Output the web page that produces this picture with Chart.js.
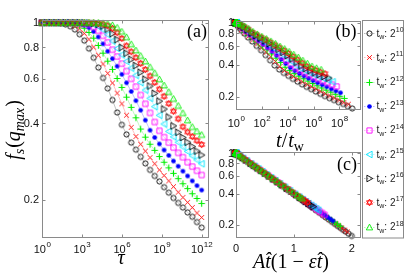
<!DOCTYPE html>
<html><head><meta charset="utf-8">
<script src="https://cdn.jsdelivr.net/npm/chart.js@4.4.1/dist/chart.umd.min.js"></script>
<style>
html,body{margin:0;padding:0;background:#fff;}
#wrap{position:relative;width:415px;height:278px;overflow:hidden;background:#fff;}
canvas{position:absolute;left:0;top:0;}
</style></head><body>
<div id="wrap">
<canvas id="ca" width="415" height="278"></canvas>
<canvas id="cb" width="415" height="278"></canvas>
<canvas id="cc" width="415" height="278"></canvas>
</div>
<script>
// ---- data ----
const TAU_LOG10 = [0.000,0.353,0.706,1.059,1.412,1.765,2.118,2.471,2.824,3.176,3.529,3.882,4.235,4.588,4.941,5.294,5.647,6.000,6.353,6.706,7.059,7.412,7.765,8.118,8.471,8.824,9.176,9.529,9.882,10.235,10.588,10.941,11.294,11.647,12.000];
const TW_EXP = [10,11,12,13,14,15,16,17,18];
const FS_TW10 = [1.000,1.000,0.999,0.997,0.993,0.985,0.968,0.940,0.900,0.850,0.790,0.727,0.665,0.605,0.550,0.495,0.442,0.395,0.362,0.336,0.315,0.295,0.278,0.262,0.248,0.236,0.224,0.213,0.203,0.194,0.186,0.178,0.171,0.163,0.155];
const FS_TW11 = [1.000,1.000,1.000,0.999,0.997,0.994,0.986,0.971,0.946,0.908,0.860,0.801,0.744,0.687,0.631,0.578,0.527,0.478,0.431,0.386,0.355,0.331,0.311,0.293,0.277,0.262,0.249,0.237,0.225,0.214,0.204,0.195,0.186,0.177,0.170];
const FS_TW12 = [1.000,1.000,1.000,1.000,0.999,0.997,0.994,0.988,0.974,0.951,0.915,0.869,0.813,0.758,0.705,0.654,0.602,0.555,0.508,0.463,0.421,0.380,0.353,0.331,0.313,0.296,0.281,0.267,0.254,0.242,0.231,0.221,0.211,0.202,0.193];
const FS_TW13 = [1.000,1.000,1.000,1.000,1.000,0.999,0.998,0.995,0.989,0.978,0.956,0.923,0.879,0.825,0.771,0.721,0.673,0.625,0.579,0.535,0.492,0.451,0.412,0.376,0.352,0.332,0.314,0.299,0.284,0.271,0.259,0.248,0.237,0.227,0.218];
const FS_TW14 = [1.000,1.000,1.000,1.000,1.000,1.000,1.000,0.999,0.996,0.991,0.981,0.962,0.931,0.888,0.836,0.782,0.735,0.689,0.644,0.600,0.559,0.518,0.478,0.440,0.405,0.374,0.353,0.336,0.321,0.306,0.294,0.281,0.270,0.260,0.250];
const FS_TW15 = [1.000,1.000,1.000,1.000,1.000,1.000,1.000,1.000,0.999,0.997,0.993,0.984,0.967,0.938,0.897,0.847,0.791,0.747,0.704,0.662,0.620,0.580,0.542,0.503,0.466,0.431,0.398,0.372,0.354,0.337,0.323,0.310,0.298,0.287,0.277];
const FS_TW16 = [1.000,1.000,1.000,1.000,1.000,1.000,1.000,1.000,1.000,0.999,0.997,0.994,0.986,0.971,0.944,0.905,0.857,0.799,0.758,0.717,0.677,0.637,0.598,0.562,0.526,0.490,0.456,0.424,0.391,0.369,0.352,0.337,0.324,0.311,0.300];
const FS_TW17 = [1.000,1.000,1.000,1.000,1.000,1.000,1.000,1.000,1.000,1.000,0.999,0.997,0.994,0.987,0.973,0.950,0.913,0.867,0.810,0.768,0.728,0.691,0.653,0.616,0.581,0.546,0.512,0.479,0.447,0.417,0.388,0.370,0.355,0.342,0.330];
const FS_TW18 = [1.000,1.000,1.000,1.000,1.000,1.000,1.000,1.000,1.000,1.000,1.000,0.999,0.998,0.995,0.989,0.977,0.955,0.921,0.876,0.822,0.777,0.739,0.703,0.667,0.632,0.597,0.565,0.532,0.500,0.469,0.439,0.411,0.387,0.372,0.360];
// slope of the collapse in panel (c): log10 f = -k * A t(1 - eps t)
const COLLAPSE_K = [0.405,0.400,0.397,0.395,0.393,0.392,0.391,0.390,0.388];
const X_TICK_EXP_A = [0,3,6,9,12];
const X_TICK_EXP_B = [0,2,4,6,8];
const X_TICKS_C = [0,1,2];
const Y_TICKS = [0.2,0.4,0.6,0.8,1];
const Y_TICK_LABELS = ['0.2','0.4','0.6','0.8','1'];

const FS = [FS_TW10,FS_TW11,FS_TW12,FS_TW13,FS_TW14,FS_TW15,FS_TW16,FS_TW17,FS_TW18];
const COLORS = ['#000000','#ff0000','#00ee00','#0000ff','#ff00ff','#00e5ff','#000000','#ff0000','#00ee00'];
const LINECOLORS = ['rgba(0,0,0,0.35)','rgba(255,0,0,0.35)','rgba(0,220,0,0.35)','rgba(0,0,255,0.35)','rgba(255,0,255,0.35)','rgba(0,220,255,0.35)','rgba(0,0,0,0.35)','rgba(255,0,0,0.35)','rgba(0,220,0,0.35)'];
const MARKERS = ['circle','x','plus','dot','square','triL','triR','hex','triU'];

function makeMarker(kind, color){
  const s=13, c=document.createElement('canvas'); c.width=s; c.height=s;
  const g=c.getContext('2d'), m=s/2;
  g.strokeStyle=color; g.fillStyle=color; g.lineWidth=0.9;
  g.beginPath();
  switch(kind){
    case 'circle': g.arc(m,m,2.6,0,2*Math.PI); g.stroke(); break;
    case 'x': { const r=2.4; g.moveTo(m-r,m-r); g.lineTo(m+r,m+r); g.moveTo(m-r,m+r); g.lineTo(m+r,m-r); g.stroke(); break; }
    case 'plus': { const r=3.2; g.lineWidth=1.1; g.moveTo(m-r,m); g.lineTo(m+r,m); g.moveTo(m,m-r); g.lineTo(m,m+r); g.stroke(); break; }
    case 'dot': g.arc(m,m,2.3,0,2*Math.PI); g.fill(); break;
    case 'square': g.rect(m-2.6,m-2.6,5.2,5.2); g.stroke(); break;
    case 'triL': g.moveTo(m-3.3,m); g.lineTo(m+2.6,m-3.3); g.lineTo(m+2.6,m+3.3); g.closePath(); g.stroke(); break;
    case 'triR': g.moveTo(m+3.3,m); g.lineTo(m-2.6,m-3.3); g.lineTo(m-2.6,m+3.3); g.closePath(); g.stroke(); break;
    case 'hex': { const r=3.4;
      g.moveTo(m,m-r); g.lineTo(m+r*0.866,m+r*0.5); g.lineTo(m-r*0.866,m+r*0.5); g.closePath();
      g.moveTo(m,m+r); g.lineTo(m+r*0.866,m-r*0.5); g.lineTo(m-r*0.866,m-r*0.5); g.closePath(); g.stroke(); break; }
    case 'triU': g.moveTo(m,m-3.4); g.lineTo(m+3.2,m+2.4); g.lineTo(m-3.2,m+2.4); g.closePath(); g.stroke(); break;
  }
  return c;
}
const MARKER_IMG = MARKERS.map((k,i)=>makeMarker(k,COLORS[i]));

const SANS = '"Liberation Sans", Arial, sans-serif';
const SERIF = '"Liberation Serif", "Times New Roman", serif';

function drawRich(ctx, parts, cx, cy, rot){
  let w=0;
  parts.forEach(p=>{ ctx.font=p.f; p.w=ctx.measureText(p.t).width; w+=p.w+(p.gap||0); });
  ctx.save(); ctx.translate(cx,cy); if(rot) ctx.rotate(rot);
  ctx.textAlign='left'; ctx.textBaseline='alphabetic';
  let x=-w/2;
  parts.forEach(p=>{ ctx.font=p.f; ctx.fillText(p.t,x,p.dy||0); x+=p.w+(p.gap||0); });
  ctx.restore();
}
function drawPow(ctx, base, sup, cx, baseline){
  ctx.font='11px '+SANS; const w1=ctx.measureText(base).width;
  ctx.font='8px '+SANS; const w2=ctx.measureText(sup).width;
  const x0=cx-(w1+w2)/2;
  ctx.textAlign='left'; ctx.textBaseline='alphabetic';
  ctx.font='11px '+SANS; ctx.fillText(base,x0,baseline);
  ctx.font='8px '+SANS; ctx.fillText(sup,x0+w1+0.5,baseline-6);
}

function framePlugin(spec){
  return {id:'frame_'+spec.id, afterDraw(chart){
    const ctx=chart.ctx, a=chart.chartArea, xs=chart.scales.x, ys=chart.scales.y;
    ctx.save();
    ctx.strokeStyle='#8a8a8a'; ctx.lineWidth=1;
    const L=Math.round(a.left)+0.5, R=Math.round(a.right)-0.5, T=Math.round(a.top)+0.5, B=Math.round(a.bottom)-0.5;
    ctx.strokeRect(L,T,R-L,B-T);
    ctx.beginPath();
    spec.xTicks.forEach(t=>{ const px=Math.round(xs.getPixelForValue(t.v))+0.5; ctx.moveTo(px,B); ctx.lineTo(px,B-3); ctx.moveTo(px,T); ctx.lineTo(px,T+3); });
    Y_TICKS.forEach(v=>{ const py=Math.round(ys.getPixelForValue(v))+0.5; ctx.moveTo(L,py); ctx.lineTo(L+3,py); ctx.moveTo(R,py); ctx.lineTo(R-3,py); });
    ctx.stroke();
    ctx.fillStyle='#111';
    spec.xTicks.forEach(t=>{
      const px=xs.getPixelForValue(t.v);
      if(t.sup!==undefined) drawPow(ctx,'10',t.sup,px,a.bottom+spec.xlab);
      else { ctx.font='11px '+SANS; ctx.textAlign='center'; ctx.textBaseline='alphabetic'; ctx.fillText(t.label,px,a.bottom+spec.xlab); }
    });
    ctx.font='11px '+SANS; ctx.textAlign='right'; ctx.textBaseline='middle';
    Y_TICKS.forEach((v,i)=>{ ctx.fillText(Y_TICK_LABELS[i], a.left-spec.ylab, ys.getPixelForValue(v)+0.5); });
    ctx.fillStyle='#000';
    if(spec.extra) spec.extra(ctx,chart);
    ctx.restore();
  }};
}

function makeDatasets(xfn){
  return FS.map((f,i)=>({
    label:'tw'+TW_EXP[i],
    data:TAU_LOG10.map((L,k)=>({x:xfn(L,k,i), y:f[k]})),
    showLine:true, borderColor:LINECOLORS[i], borderWidth:0.7,
    pointStyle:MARKER_IMG[i], pointRadius:3, order:8-i, clip:false
  }));
}

function baseOptions(pad, xcfg, ycfg){
  return {responsive:false, animation:false, devicePixelRatio:1,
    layout:{padding:pad, autoPadding:false},
    plugins:{legend:{display:false}, tooltip:{enabled:false}},
    events:[],
    scales:{x:Object.assign({display:false,bounds:'data'},xcfg), y:Object.assign({display:false,bounds:'data'},ycfg)}};
}

const serifI = s=>'italic '+s+'px '+SERIF;
const serifR = s=>s+'px '+SERIF;

// Panel (a)
new Chart(document.getElementById('ca'),{
  type:'scatter',
  data:{datasets:makeDatasets((L)=>Math.pow(10,L))},
  options:baseOptions({left:42,top:20,right:415-209,bottom:278-238},
    {type:'logarithmic',min:1,max:Math.pow(10,12.55)},
    {type:'logarithmic',min:0.141,max:1.025}),
  plugins:[framePlugin({id:'a',xlab:15,ylab:3,
    xTicks:X_TICK_EXP_A.map(e=>({v:Math.pow(10,e),sup:String(e)})),
    extra:(ctx)=>{
      drawRich(ctx,[{t:'τ',f:serifI(20)}],121,264);
      drawRich(ctx,[{t:'f',f:serifI(20)},{t:'s',f:serifI(14),dy:4,gap:1},{t:'(',f:serifR(20)},{t:'q',f:serifI(20)},{t:'max',f:serifI(14),dy:4,gap:1},{t:')',f:serifR(20)}],20,130,-Math.PI/2);
      drawRich(ctx,[{t:'(a)',f:serifR(18)}],197,37);
      // legend
      ctx.save();
      ctx.strokeStyle='#8a8a8a'; ctx.lineWidth=1; ctx.strokeRect(362.5,20.5,41,217.5);
      for(let i=0;i<9;i++){
        const y=33.3+24.17*i;
        ctx.strokeStyle=LINECOLORS[i]; ctx.lineWidth=0.8; ctx.setLineDash([1.5,1.5]);
        ctx.beginPath(); ctx.moveTo(364,Math.round(y)+0.5); ctx.lineTo(375,Math.round(y)+0.5); ctx.stroke();
        ctx.setLineDash([]);
        const img=MARKER_IMG[i]; ctx.drawImage(img,369.5-img.width/2,Math.round(y)+0.5-img.height/2);
        ctx.fillStyle='#222'; ctx.textAlign='left'; ctx.textBaseline='alphabetic';
        let x=376.5; const bl=y+3.5;
        ctx.font='10px '+SANS; ctx.fillText('t',x,bl); x+=ctx.measureText('t').width;
        ctx.font='7px '+SANS; ctx.fillText('w',x,bl+2.5); x+=ctx.measureText('w').width;
        ctx.font='10px '+SANS; ctx.fillText(': 2',x,bl); x+=ctx.measureText(': 2').width;
        ctx.font='7px '+SANS; ctx.fillText(String(TW_EXP[i]),x+0.3,bl-4.5);
      }
      ctx.restore();
    }})]
});

// Panel (b)
new Chart(document.getElementById('cb'),{
  type:'scatter',
  data:{datasets:makeDatasets((L,k,i)=>1+Math.pow(10,L)/Math.pow(2,TW_EXP[i]))},
  options:baseOptions({left:236,top:21,right:415-361,bottom:278-110},
    {type:'logarithmic',min:1,max:Math.pow(10,9.67)},
    {type:'logarithmic',min:0.150,max:1.038}),
  plugins:[framePlugin({id:'b',xlab:16.5,ylab:2,
    xTicks:X_TICK_EXP_B.map(e=>({v:Math.pow(10,e),sup:String(e)})),
    extra:(ctx)=>{
      drawRich(ctx,[{t:'t',f:serifI(20)},{t:'/',f:serifR(20),gap:1},{t:'t',f:serifI(20)},{t:'w',f:serifR(14),dy:4}],290,147);
      drawRich(ctx,[{t:'(b)',f:serifR(18)}],346,37);
    }})]
});

// Panel (c)
new Chart(document.getElementById('cc'),{
  type:'scatter',
  data:{datasets:makeDatasets((L,k,i)=>-Math.log10(FS[i][k])/COLLAPSE_K[i])},
  options:baseOptions({left:236,top:152,right:415-361,bottom:278-238},
    {type:'linear',min:0,max:2.16},
    {type:'logarithmic',min:0.148,max:1.03}),
  plugins:[framePlugin({id:'c',xlab:13.5,ylab:2,
    xTicks:X_TICKS_C.map(v=>({v:v,label:String(v)})),
    extra:(ctx)=>{
      drawRich(ctx,[{t:'A',f:serifI(20)},{t:'t\u0302',f:serifI(20)},{t:'(1 \u2212 ',f:serifR(20)},{t:'\u03b5',f:serifI(20)},{t:'t\u0302',f:serifI(20)},{t:')',f:serifR(20)}],291,268);
      drawRich(ctx,[{t:'(c)',f:serifR(18)}],347,170);
    }})]
});
</script>
</body></html>
